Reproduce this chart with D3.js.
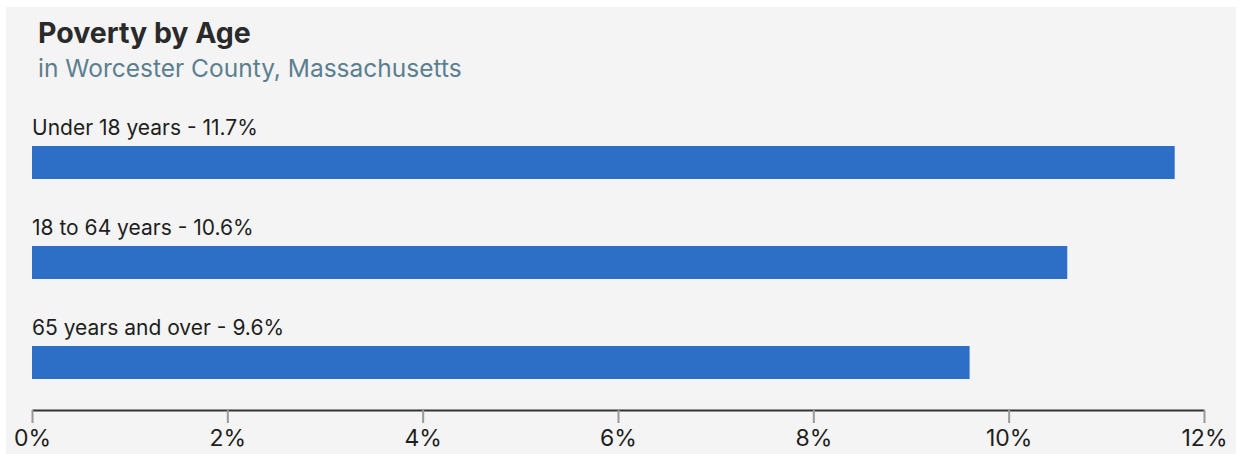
<!DOCTYPE html>
<html>
<head>
<meta charset="utf-8">
<script src="https://cdn.jsdelivr.net/npm/d3@7"></script>
<style>
  body { margin: 0; background: #fff; }
  text { font-family: Inter, "Open Sans", sans-serif; }
</style>
</head>
<body>
<div class="canvas"></div>
<script>
// margins and dimensions
const w = 1238;
const h = 454;
const margin = { top: 100, right: 34, bottom: 44, left: 32 };
const graphWidth = w - margin.left - margin.right;

// data
const ageGroups = ["Under 18 years", "18 to 64 years", "65 years and over"];
const povertyRates = [11.7, 10.6, 9.6];
const tickValues = [0, 2, 4, 6, 8, 10, 12];

const svg = d3.select(".canvas").append("svg").attr("width", w).attr("height", h);

// card background
svg.append("rect")
  .attr("x", 6).attr("y", 7)
  .attr("width", w - 8).attr("height", h - 7)
  .attr("fill", "#f4f4f4");

// title + subtitle
svg.append("text")
  .attr("x", 38).attr("y", 43)
  .attr("font-size", 28.5).attr("font-weight", 700)
  .attr("fill", "#2a2a2a")
  .text("Poverty by Age");

svg.append("text")
  .attr("x", 38).attr("y", 77)
  .attr("font-size", 24.5)
  .attr("fill", "#5b7f90")
  .text("in Worcester County, Massachusetts");

const graph = svg.append("g")
  .attr("transform", `translate(${margin.left}, ${margin.top})`);

// xScale covers 0-12%
const xScale = d3.scaleLinear().domain([0, 12]).range([0, graphWidth]);

// each row is 100px tall, bar sits in the lower part
const yScale = d3.scaleBand().domain(ageGroups).range([0, 300]);

const rows = graph.selectAll(".row")
  .data(ageGroups)
  .join("g")
  .attr("class", "row")
  .attr("transform", d => `translate(0, ${yScale(d)})`);

rows.append("text")
  .attr("x", 0).attr("y", 35)
  .attr("font-size", 21)
  .attr("fill", "#1e1e1e")
  .text((d, i) => `${d} - ${povertyRates[i]}%`);

rows.append("rect")
  .attr("x", 0).attr("y", 46)
  .attr("height", 33)
  .attr("width", (d, i) => xScale(povertyRates[i]))
  .attr("fill", "#2d6fc6");

// x axis
const xAxis = d3.axisBottom(xScale)
  .tickValues(tickValues)
  .tickFormat(d => d + "%")
  .tickSize(13)
  .tickSizeOuter(0)
  .tickPadding(7);

const axisG = graph.append("g")
  .attr("transform", `translate(0, 310)`)
  .call(xAxis);

axisG.select(".domain").attr("stroke", "#333").attr("stroke-width", 2);
axisG.selectAll(".tick line").attr("stroke", "#999").attr("stroke-width", 2);
axisG.selectAll(".tick text")
  .attr("font-size", 23)
  .attr("fill", "#1e1e1e")
  .attr("font-family", "Inter, 'Open Sans', sans-serif");
</script>
</body>
</html>
